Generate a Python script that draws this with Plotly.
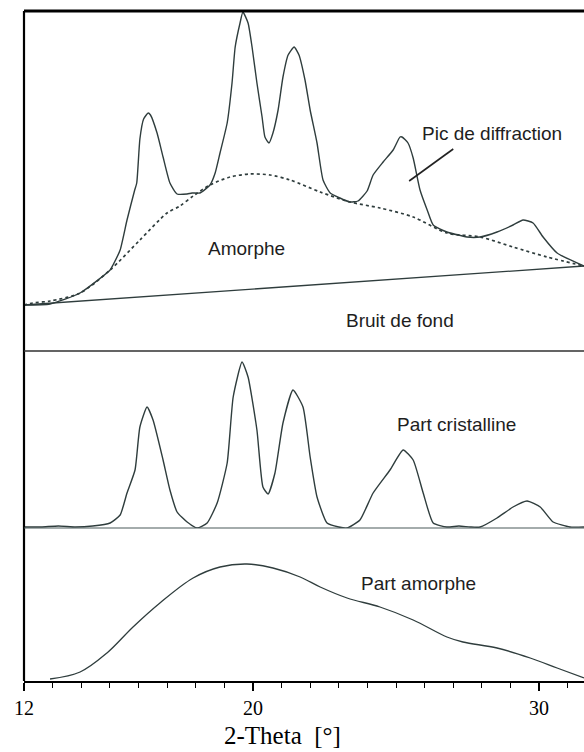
import plotly.graph_objects as go

# ---------------- data (2-Theta in degrees, intensity in arbitrary units) ----------------
# Panel 1 : measured diffractogram (total signal)
tot_2theta = [12.00, 12.91, 13.96, 15.01, 15.11, 15.36, 15.60, 15.86, 15.94, 16.05, 16.18, 16.34,
              16.42, 16.65, 16.86, 17.10, 17.35, 17.70, 17.87, 18.15, 18.50, 18.68, 18.85, 19.10, 19.27,
              19.38, 19.55, 19.65, 19.83, 19.97, 20.14, 20.32, 20.42, 20.56, 20.70, 20.88, 21.05,
              21.23, 21.44, 21.61, 21.82, 22.00, 22.24, 22.45, 22.70, 23.04, 23.39, 23.67, 23.99,
              24.20, 24.55, 24.90, 25.14, 25.21, 25.42, 25.60, 25.84, 26.09, 26.30, 26.78, 27.48,
              27.94, 28.53, 29.09, 29.44, 29.79, 30.14, 30.63, 31.57]
tot_int = [46, 47, 58, 81, 86, 101, 131, 160, 168, 212, 232, 238,
           236, 218, 194, 168, 157, 157, 158, 158, 166, 178, 198, 228, 268,
           304, 328, 339, 328, 304, 268, 234, 214, 208, 218, 241, 274,
           296, 304, 296, 271, 241, 208, 171, 158, 153, 149, 150, 160,
           176, 189, 201, 214, 214, 208, 193, 161, 141, 126, 119, 114,
           114, 119, 126, 131, 128, 114, 98, 85]

# Panel 1 : amorphous halo (dotted)
amo_2theta = [12.00, 12.31, 12.91, 13.96, 15.01, 16.05, 17.00, 17.45, 17.91, 18.50, 19.20, 19.90,
              20.60, 21.30, 22.35, 23.39, 24.44, 25.60, 26.78, 27.94, 29.09, 30.28, 31.57]
amo_int = [46, 48, 50, 58, 81, 111, 138, 145, 155, 166, 174, 177,
           176, 171, 159, 149, 143, 134, 118, 114, 104, 94, 85]

# Panel 1 : background (Bruit de fond)
bg_2theta = [12.00, 31.57]
bg_int = [46, 85]

# Panel 2 : crystalline part
cri_2theta = [12.00, 12.60, 13.20, 13.80, 14.40, 15.01, 15.36, 15.60, 15.88, 16.05, 16.30, 16.51,
              16.86, 17.10, 17.35, 17.70, 18.05, 18.40, 18.75, 19.10, 19.31, 19.62, 19.83, 20.14,
              20.35, 20.53, 20.77, 21.05, 21.40, 21.75, 22.00, 22.24, 22.59, 23.00, 23.29, 23.74,
              24.20, 24.79, 25.25, 25.60, 25.95, 26.30, 26.78, 27.20, 27.60, 27.94, 28.53, 29.09,
              29.58, 30.04, 30.49, 31.08, 31.57]
cri_int = [1, 1, 2, 1, 2, 5, 13, 35, 58, 101, 121, 108,
           68, 38, 16, 6, 0, 5, 25, 65, 131, 166, 151, 98,
           41, 34, 55, 105, 138, 121, 71, 31, 5, 1, 0, 8,
           35, 58, 78, 68, 35, 5, 1, 2, 1, 1, 10, 21,
           27, 21, 6, 1, 1]

# Panel 3 : amorphous part
pam_2theta = [12.91, 13.96, 14.90, 15.81, 16.75, 17.91, 18.85, 19.79, 20.70, 21.65, 22.35, 23.29,
              24.44, 25.60, 26.78, 27.34, 28.53, 29.69, 30.63, 31.57]
pam_int = [2, 9, 28, 54, 78, 103, 114, 117, 113, 104, 94, 83,
           74, 61, 44, 39, 33, 23, 13, 3]

x_ticks = [12, 20, 30]
x_range = [12, 31.57]

# ---------------- figure ----------------
LINE = "#2f3d3d"
fig = go.Figure()
fig.add_trace(go.Scatter(x=bg_2theta, y=bg_int, mode="lines", line=dict(color=LINE, width=1.3),
                         xaxis="x", yaxis="y3"))
fig.add_trace(go.Scatter(x=amo_2theta, y=amo_int, mode="lines",
                         line=dict(color=LINE, width=1.7, dash="dot", shape="spline", smoothing=0.8),
                         xaxis="x", yaxis="y3"))
fig.add_trace(go.Scatter(x=tot_2theta, y=tot_int, mode="lines",
                         line=dict(color=LINE, width=1.4, shape="spline", smoothing=0.5),
                         xaxis="x", yaxis="y3"))
fig.add_trace(go.Scatter(x=cri_2theta, y=cri_int, mode="lines",
                         line=dict(color=LINE, width=1.4, shape="spline", smoothing=0.5),
                         xaxis="x", yaxis="y2"))
fig.add_trace(go.Scatter(x=pam_2theta, y=pam_int, mode="lines",
                         line=dict(color=LINE, width=1.3, shape="spline"),
                         xaxis="x", yaxis="y"))

H = 670.0
d1 = 153 / H
d2 = 330 / H

fig.update_layout(
    width=584, height=752,
    margin=dict(l=24, r=0, t=11, b=71),
    paper_bgcolor="white", plot_bgcolor="white",
    showlegend=False,
    xaxis=dict(range=x_range, anchor="y", showgrid=False, zeroline=False,
               showline=True, linecolor="black", linewidth=2,
               tickvals=x_ticks, ticks="outside", ticklen=8, tickwidth=1.5, tickcolor="black",
               minor=dict(dtick=1, tick0=12, ticks="outside", ticklen=5, tickwidth=1.2, tickcolor="black"),
               tickfont=dict(family="Liberation Serif", size=20, color="black")),
    yaxis=dict(domain=[0, d1], range=[0, 153], visible=False),
    yaxis2=dict(domain=[d1, d2], range=[0, 177], visible=False),
    yaxis3=dict(domain=[d2, 1], range=[0, 340], visible=False),
)

shapes = [
    # left axis
    dict(type="line", xref="paper", yref="paper", x0=0, x1=0, y0=0, y1=1, line=dict(color="black", width=2.2)),
    # top border
    dict(type="line", xref="paper", yref="paper", x0=0, x1=1, y0=1, y1=1, line=dict(color="black", width=3)),
    # separators
    dict(type="line", xref="paper", yref="paper", x0=0, x1=1, y0=d2, y1=d2, line=dict(color="#303030", width=1.3)),
    dict(type="line", xref="paper", yref="paper", x0=0, x1=1, y0=d1, y1=d1, line=dict(color="#4a5a5a", width=1.2)),
    # leader line for "Pic de diffraction"
    dict(type="line", xref="x", yref="y3", x0=27.0, y0=202, x1=25.46, y1=170, line=dict(color="#222222", width=1.6)),
]
fig.update_layout(shapes=shapes)

SANS = dict(family="Liberation Sans", size=19, color="#1e1e1e")
ann = [
    dict(x=19.76, y=103, xref="x", yref="y3", text="Amorphe"),
    dict(x=25.14, y=31, xref="x", yref="y3", text="Bruit de fond"),
    dict(x=28.36, y=218, xref="x", yref="y3", text="Pic de diffraction"),
    dict(x=27.13, y=104, xref="x", yref="y2", text="Part cristalline"),
    dict(x=25.77, y=98, xref="x", yref="y", text="Part amorphe"),
]
for a in ann:
    a.update(showarrow=False, font=SANS, xanchor="center", yanchor="middle")
ann.append(dict(x=0.461, y=-(735 - 681) / H, xref="paper", yref="paper", text="2-Theta  [°]",
                showarrow=False, xanchor="center", yanchor="middle",
                font=dict(family="Liberation Serif", size=25, color="black")))
fig.update_layout(annotations=ann)

fig.write_html("out.html")
